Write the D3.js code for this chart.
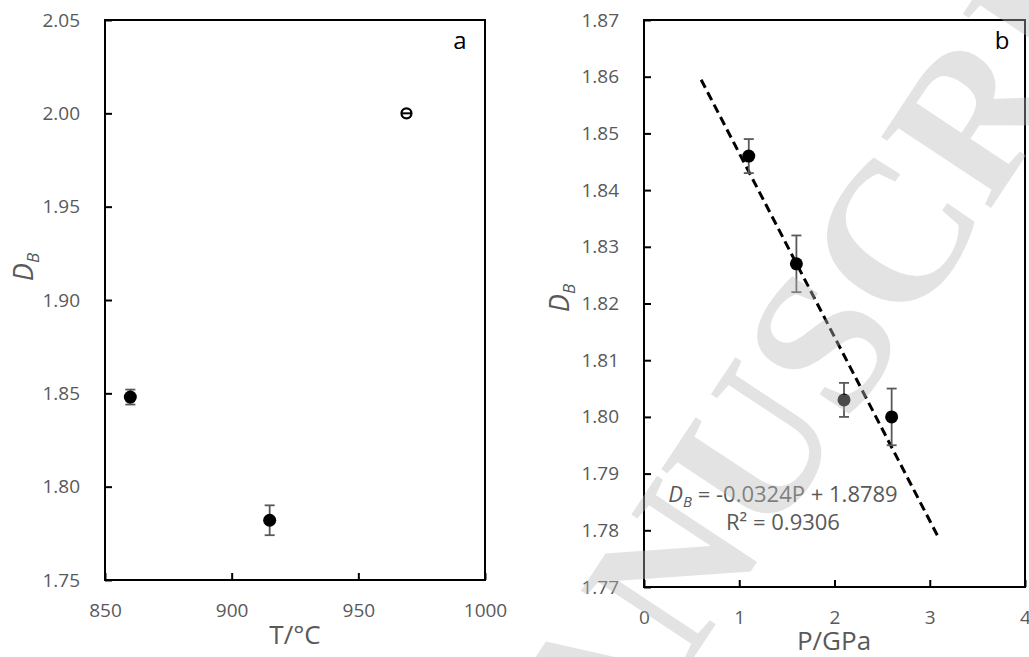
<!DOCTYPE html>
<html>
<head>
<meta charset="utf-8">
<script src="https://cdn.jsdelivr.net/npm/d3@7/dist/d3.min.js"></script>
<style>
  html, body { margin: 0; padding: 0; background: #fff; }
  svg { display: block; }
  text { font-family: "Open Sans", "Liberation Sans", sans-serif; }
</style>
</head>
<body>
<svg id="chart" width="1029" height="657"></svg>
<script>
// ---- data (panel a: D_B vs temperature) ----
const tempC = [860, 915, 969];
const dbTemp = [1.848, 1.782, 2.000];
const dbTempErr = [0.004, 0.008, 0];
const tempMarker = ["filled", "filled", "open"];
const tempTicks = [850, 900, 950, 1000];
const dbTempTicks = [1.75, 1.80, 1.85, 1.90, 1.95, 2.00, 2.05];

// ---- data (panel b: D_B vs pressure) ----
const presGPa = [1.1, 1.6, 2.1, 2.6];
const dbPres = [1.846, 1.827, 1.803, 1.800];
const dbPresErr = [0.003, 0.005, 0.003, 0.005];
const presTicks = [0, 1, 2, 3, 4];
const dbPresTicks = [1.77, 1.78, 1.79, 1.80, 1.81, 1.82, 1.83, 1.84, 1.85, 1.86, 1.87];
const fitSlope = -0.0324;
const fitIntercept = 1.8789;
const fitRange = [0.6, 3.1];
const fitLabel = ["= -0.0324P + 1.8789", "R² = 0.9306"];

const svg = d3.select("#chart");
const tickGray = "#595959";

function panel(cfg) {
  const g = svg.append("g");
  const x = d3.scaleLinear().domain(cfg.xDomain).range([cfg.left, cfg.right]);
  const y = d3.scaleLinear().domain(cfg.yDomain).range([cfg.bottom, cfg.top]);

  g.append("rect")
    .attr("x", cfg.left).attr("y", cfg.top)
    .attr("width", cfg.right - cfg.left).attr("height", cfg.bottom - cfg.top)
    .attr("fill", "none").attr("stroke", "#000").attr("stroke-width", 2);

  const xAxis = d3.axisBottom(x).tickValues(cfg.xTicks).tickSize(-7).tickPadding(22)
    .tickFormat(cfg.xFormat);
  const yAxis = d3.axisLeft(y).tickValues(cfg.yTicks).tickSize(-7).tickPadding(25)
    .tickFormat(cfg.yFormat);

  const gx = g.append("g").attr("transform", `translate(0,${cfg.bottom})`).call(xAxis);
  const gy = g.append("g").attr("transform", `translate(${cfg.left},0)`).call(yAxis);
  [gx, gy].forEach(a => {
    a.select(".domain").remove();
    a.selectAll(".tick line").attr("stroke", "#000").attr("stroke-width", 2);
    a.selectAll(".tick text").attr("fill", tickGray).style("font-size", "19px")
      .style("font-family", '"Open Sans", sans-serif');
  });
  gx.selectAll(".tick text").attr("dy", "0.32em").attr("y", 31);

  g.append("text").attr("x", cfg.xTitleX).attr("y", cfg.xTitleY)
    .attr("text-anchor", "middle").attr("fill", tickGray).style("font-size", "26px")
    .text(cfg.xTitle);

  const yt = g.append("text")
    .attr("transform", `translate(${cfg.yTitleX},${cfg.yTitleY}) rotate(-90)`)
    .attr("text-anchor", "middle").attr("fill", tickGray).style("font-size", "27px");
  yt.append("tspan").style("font-style", "italic").text("D");
  yt.append("tspan").style("font-style", "italic").style("font-size", "17px").attr("dy", 6).text("B");

  g.append("text").attr("x", cfg.letterX).attr("y", cfg.letterY)
    .attr("text-anchor", "middle").attr("fill", "#000").style("font-size", "24px")
    .text(cfg.letter);

  return { g, x, y };
}

function errorBars(g, x, y, xs, ys, errs) {
  const eb = g.append("g").attr("stroke", tickGray).attr("stroke-width", 1.8);
  xs.forEach((xv, i) => {
    if (!errs[i]) return;
    const cx = x(xv), y1 = y(ys[i] + errs[i]), y2 = y(ys[i] - errs[i]);
    eb.append("line").attr("x1", cx).attr("x2", cx).attr("y1", y1).attr("y2", y2);
    eb.append("line").attr("x1", cx - 5).attr("x2", cx + 5).attr("y1", y1).attr("y2", y1);
    eb.append("line").attr("x1", cx - 5).attr("x2", cx + 5).attr("y1", y2).attr("y2", y2);
  });
}

// ---- panel a ----
const A = panel({
  left: 105, right: 485, top: 20, bottom: 580,
  xDomain: [850, 1000], yDomain: [1.75, 2.05],
  xTicks: tempTicks, yTicks: dbTempTicks,
  xFormat: d3.format("d"), yFormat: d3.format(".2f"),
  xTitle: "T/°C", xTitleX: 295, xTitleY: 644,
  yTitleX: 33, yTitleY: 267,
  letter: "a", letterX: 460, letterY: 49
});
errorBars(A.g, A.x, A.y, tempC, dbTemp, dbTempErr);
tempC.forEach((t, i) => {
  const cx = A.x(t), cy = A.y(dbTemp[i]);
  if (tempMarker[i] === "filled") {
    A.g.append("circle").attr("cx", cx).attr("cy", cy).attr("r", 6.5).attr("fill", "#000");
  } else {
    A.g.append("circle").attr("cx", cx).attr("cy", cy).attr("r", 5)
      .attr("fill", "#fff").attr("stroke", "#000").attr("stroke-width", 2.2);
    A.g.append("line").attr("x1", cx - 5).attr("x2", cx + 5).attr("y1", cy).attr("y2", cy)
      .attr("stroke", "#000").attr("stroke-width", 2);
  }
});

// ---- panel b ----
const B = panel({
  left: 644, right: 1025, top: 20, bottom: 587,
  xDomain: [0, 4], yDomain: [1.77, 1.87],
  xTicks: presTicks, yTicks: dbPresTicks,
  xFormat: d3.format("d"), yFormat: d3.format(".2f"),
  xTitle: "P/GPa", xTitleX: 834, xTitleY: 650,
  yTitleX: 569, yTitleY: 298,
  letter: "b", letterX: 1002, letterY: 49
});
B.g.append("path")
  .datum(fitRange)
  .attr("d", d3.line().x(p => B.x(p)).y(p => B.y(fitSlope * p + fitIntercept)))
  .attr("stroke", "#000").attr("stroke-width", 3).attr("stroke-dasharray", "9,5")
  .attr("fill", "none");
errorBars(B.g, B.x, B.y, presGPa, dbPres, dbPresErr);
B.g.selectAll("circle.pt").data(presGPa).enter().append("circle")
  .attr("cx", p => B.x(p)).attr("cy", (p, i) => B.y(dbPres[i])).attr("r", 6.5).attr("fill", "#000");

const eq = B.g.append("text").attr("x", 783).attr("y", 502).attr("text-anchor", "middle")
  .attr("fill", tickGray).style("font-size", "22px");
eq.append("tspan").style("font-style", "italic").text("D");
eq.append("tspan").style("font-style", "italic").style("font-size", "15px").attr("dy", 5).text("B");
eq.append("tspan").attr("dy", -5).text(" " + fitLabel[0]);
B.g.append("text").attr("x", 783).attr("y", 530).attr("text-anchor", "middle")
  .attr("fill", tickGray).style("font-size", "22px").text(fitLabel[1]);

// ---- watermark overlay ----
svg.append("text")
  .attr("transform", "translate(504,944) rotate(-56.5)")
  .attr("fill", "#b9b9b9").attr("fill-opacity", 0.4)
  .style("font-family", '"Liberation Serif", "DejaVu Serif", serif')
  .style("font-weight", "bold")
  .style("font-size", "200px")
  .text("MANUSCRIPT");
</script>
</body>
</html>
